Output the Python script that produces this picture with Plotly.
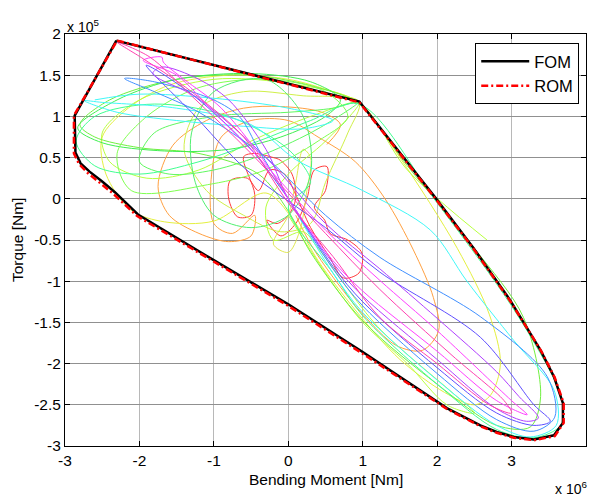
import plotly.graph_objects as go

# ---------------- data (x in 1e6 Nm, y in 1e5 Nm) ----------------
FOM_X = [-2.31, 0.955, 1.97, 2.49, 2.98, 3.39, 3.57, 3.69, 3.69, 3.57, 3.30, 3.03, 2.80, 2.58, 2.13, 1.0, 0.0, -1.03, -2.02, -2.33, -2.50, -2.67, -2.79, -2.86, -2.87, -2.31]
FOM_Y = [1.92, 1.18, 0.02, -0.60, -1.23, -1.84, -2.16, -2.48, -2.72, -2.87, -2.92, -2.89, -2.83, -2.75, -2.54, -1.86, -1.28, -0.73, -0.19, 0.08, 0.21, 0.33, 0.43, 0.56, 1.01, 1.92]
ROM_X = [-2.30, 0.955, 1.97, 2.49, 2.98, 3.40, 3.58, 3.70, 3.70, 3.58, 3.30, 3.03, 2.80, 2.58, 2.13, 1.0, 0.0, -1.03, -2.03, -2.35, -2.52, -2.69, -2.81, -2.88, -2.88, -2.30]
ROM_Y = [1.92, 1.17, 0.01, -0.61, -1.24, -1.85, -2.17, -2.48, -2.72, -2.88, -2.93, -2.90, -2.84, -2.76, -2.55, -1.88, -1.30, -0.75, -0.21, 0.06, 0.19, 0.31, 0.42, 0.55, 1.01, 1.92]

RED = [(-0.55,0.25),(-0.78,0.22),(-0.8,0.0),(-0.68,-0.22),(-0.5,-0.2),(-0.45,0.05),(-0.6,0.51),(-0.45,0.55),(-0.2,0.5),(-0.11,0.47),(0.05,0.3),(0.1,0.0),(0.0,-0.2),(-0.15,-0.3),(-0.29,-0.26),(-0.1,-0.45),(0.1,-0.3),(0.25,0.0),(0.35,0.35),(0.52,0.39),(0.5,0.1),(0.35,-0.1),(0.49,-0.26),(0.56,-0.42),(0.8,-0.5),(0.99,-0.66),(0.95,-0.9),(0.74,-0.96),(0.55,-0.7),(0.3,-0.35),(0.1,0.05),(-0.05,0.3),(-0.25,0.35),(-0.4,0.1),(-0.55,0.25)]
ORANGE = [(0.52,0.66),(0.7,0.9),(0.45,1.05),(-0.1,1.12),(-0.6,1.1),(-1.1,0.95),(-1.55,0.65),(-1.75,0.15),(-1.6,-0.2),(-1.2,-0.42),(-0.8,-0.52),(-0.5,-0.45),(-0.45,-0.2),(-0.75,-0.42),(-1.0,-0.3),(-1.03,0.3),(-0.9,0.75),(-0.5,0.95),(0.0,0.95),(0.4,0.75),(0.9,0.45),(1.3,0.0),(1.68,-0.62),(1.95,-1.2),(2.02,-1.6),(1.8,-1.84),(1.45,-1.78),(1.0,-1.4),(0.6,-0.95),(0.3,-0.55),(0.1,-0.2)]
YELLOW = [(-0.3,0.07),(-1.0,-0.27),(-1.66,-0.28),(-2.11,-0.14),(-2.45,0.3),(-2.5,0.75),(-2.15,1.1),(-1.6,1.38),(-0.8,1.5),(0.0,1.45),(0.6,1.3),(0.95,1.17),(1.5,0.5),(2.27,-0.6),(2.7,-1.4),(2.85,-2.0),(2.72,-2.38),(2.5,-2.5),(2.1,-2.35),(1.5,-1.95),(0.9,-1.35),(0.4,-0.75),(0.1,-0.3),(-0.3,0.07)]
YELLOW2 = [(0.0,-0.2),(-0.2,-0.55),(0.0,-0.65),(0.15,-0.4),(0.25,0.1),(0.3,0.5),(0.2,0.6),(0.1,0.2),(0.0,-0.2)]
YELLOW3 = [(0.95,1.18),(0.2,1.25),(-0.6,1.3),(-1.2,1.1),(-1.4,0.6),(-1.1,0.1),(-0.6,-0.2),(-0.1,-0.4),(0.3,-0.3),(0.5,0.2),(0.8,0.8),(0.95,1.18)]
LIME = [(0.0,-0.2),(0.5,-0.9),(1.0,-1.5),(1.6,-2.0),(2.13,-2.5),(2.5,-2.6),(2.2,-2.35),(1.2,-1.55),(0.4,-0.6),(0.2,-0.4),(-0.2,-0.5),(-0.3,-0.1),(0.0,0.3),(0.5,0.7),(0.95,1.17),(0.3,1.0),(-0.5,0.7),(-1.2,0.35),(-1.9,0.25),(-2.4,0.45),(-2.5,0.8),(-2.0,1.2),(-1.0,1.45),(0.0,1.4),(0.95,1.17),(1.6,0.35),(2.67,-0.5)]
GREEN = [(0.95,1.15),(1.6,0.4),(2.5,-0.6),(3.16,-1.44),(3.39,-2.4),(3.25,-2.77),(2.8,-2.75),(2.0,-2.25),(1.0,-1.48),(0.3,-0.65),(0.0,-0.15),(-0.4,0.3),(-1.2,0.55),(-2.0,0.62),(-2.6,0.75),(-2.8,0.9),(-2.4,1.2),(-1.5,1.45),(-0.5,1.5),(0.4,1.35),(0.95,1.15)]
GREEN_A = [(-2.83,0.86),(-2.5,0.68),(-1.66,0.58),(-0.8,0.6),(-0.1,0.75),(0.5,1.0),(0.7,1.2),(0.3,1.42),(-0.5,1.52),(-1.5,1.45),(-2.3,1.2),(-2.83,0.86)]
GREEN_B = [(-2.11,0.1),(-1.03,0.18),(-0.31,0.35),(0.4,0.7),(0.8,1.0),(0.5,1.3),(-0.3,1.45),(-1.2,1.35),(-1.9,1.0),(-2.3,0.55),(-2.11,0.1)]
GREEN_C = [(-0.3,1.45),(-1.0,1.3),(-1.3,0.8),(-1.25,0.2),(-1.0,-0.2),(-0.5,-0.35),(0.0,-0.2),(0.3,0.3),(0.2,1.0),(-0.3,1.45)]
GREEN_D = [(0.95,1.18),(0.4,0.85),(-0.3,0.55),(-1.0,0.35),(-1.6,0.3),(-2.0,0.45),(-1.8,0.8),(-1.0,1.0),(0.0,1.05),(0.6,1.1),(0.95,1.18)]
SPRING = [(0.0,-0.1),(0.6,-0.9),(1.0,-1.42),(2.0,-2.25),(2.8,-2.8),(3.3,-2.9),(3.66,-2.75),(3.68,-2.45),(3.55,-2.15),(3.0,-1.3),(2.0,-0.05),(0.95,1.15),(0.3,0.95),(-0.4,0.7),(-1.2,0.45),(-2.0,0.3),(-2.6,0.4),(-2.85,0.7),(-2.6,1.0),(-1.8,1.15),(-0.8,1.0),(0.0,0.6),(0.3,0.2),(0.0,-0.1)]
CYAN = [(0.0,0.0),(0.6,-0.9),(1.0,-1.38),(2.0,-2.2),(2.8,-2.75),(3.25,-2.89),(3.6,-2.75),(3.57,-2.32),(3.03,-1.72),(2.4,-1.0),(1.91,-0.38),(1.0,0.1),(0.11,0.47),(-0.5,0.9),(-1.5,1.1),(-2.5,1.17),(-2.74,1.19),(-2.3,1.05),(-1.5,0.95),(-0.6,0.88),(0.2,0.85),(0.6,0.95),(0.0,1.1),(-1.0,1.22),(-2.0,1.27),(-2.6,1.2)]
BLUE = [(0.0,0.0),(0.6,-0.85),(1.0,-1.3),(2.0,-2.12),(2.8,-2.68),(3.3,-2.82),(3.58,-2.65),(3.48,-2.16),(2.58,-1.43),(1.23,-0.71),(0.5,-0.2),(-0.3,0.5),(-1.2,1.05),(-1.8,1.3),(-2.2,1.46),(-1.8,1.42),(-1.0,1.2),(-0.65,0.99),(-0.4,0.6),(0.0,0.0)]
VIOLET = [(0.0,0.0),(0.6,-0.82),(1.0,-1.25),(2.0,-2.05),(2.8,-2.6),(3.3,-2.75),(3.52,-2.7),(3.3,-2.5),(2.58,-1.68),(1.23,-0.89),(0.5,-0.35),(-0.56,0.35),(-1.3,1.05),(-1.91,1.62),(-1.75,1.55),(-1.2,1.2),(-0.5,0.6),(0.0,0.0)]
PURPLE = [(0.0,0.0),(0.6,-0.78),(1.0,-1.18),(2.0,-1.95),(2.8,-2.55),(3.2,-2.7),(3.36,-2.66),(3.1,-2.4),(2.8,-2.1),(2.0,-1.45),(1.23,-0.85),(0.5,-0.3),(-0.3,0.5),(-1.23,1.23),(-1.82,1.52),(-1.7,1.6),(-1.2,1.45),(-0.8,1.2),(-0.3,0.6),(0.0,0.0)]
MAGENTA = [(0.0,0.0),(0.6,-0.75),(1.0,-1.12),(2.0,-1.85),(2.8,-2.45),(3.21,-2.62),(3.0,-2.45),(2.0,-1.6),(1.23,-0.99),(0.5,-0.38),(-0.4,0.5),(-1.0,1.05),(-1.5,1.5),(-1.95,1.68),(-1.7,1.72),(-1.68,1.66),(-1.4,1.45),(-0.9,1.1),(-0.2,0.3),(0.0,0.0)]
PINK = [(0.0,-0.05),(0.6,-0.7),(1.23,-1.44),(2.0,-2.0),(2.7,-2.5),(3.0,-2.6),(2.9,-2.45),(2.2,-1.9),(1.23,-1.1),(0.5,-0.42),(-0.5,0.55),(-1.3,1.25),(-1.86,1.72),(-2.3,1.9),(-1.95,1.7),(-1.3,1.3),(-0.6,0.75),(0.0,-0.05)]

TRAJ_NAMES = ["RED", "ORANGE", "YELLOW", "YELLOW2", "YELLOW3", "LIME", "GREEN", "GREEN_A", "GREEN_B", "GREEN_C", "GREEN_D", "SPRING", "CYAN", "BLUE", "VIOLET", "PURPLE", "MAGENTA", "PINK"]
TRAJ_DATA = [RED, ORANGE, YELLOW, YELLOW2, YELLOW3, LIME, GREEN, GREEN_A, GREEN_B, GREEN_C, GREEN_D, SPRING, CYAN, BLUE, VIOLET, PURPLE, MAGENTA, PINK]
TRAJ_COLORS = ["#ff3a3a", "#ffa040", "#e4f040", "#e0e850", "#d0f048", "#b8ff40", "#70f040", "#40f050", "#80ff50", "#50f070", "#60f860", "#40ff90", "#40f8f8", "#4090ff", "#6050ff", "#b040ff", "#ff40ff", "#ff40b0"]

X_TICKS = [-3, -2, -1, 0, 1, 2, 3, 4]
X_TICKTEXT = ["-3", "-2", "-1", "0", "1", "2", "3", "4"]
Y_TICKS = [-3, -2.5, -2, -1.5, -1, -0.5, 0, 0.5, 1, 1.5, 2]
Y_TICKTEXT = ["-3", "-2.5", "-2", "-1.5", "-1", "-0.5", "0", "0.5", "1", "1.5", "2"]

FONT = "Liberation Sans, Arial, sans-serif"

fig = go.Figure()
for name, pts, col in zip(TRAJ_NAMES, TRAJ_DATA, TRAJ_COLORS):
    xs = [p[0] for p in pts]
    ys = [p[1] for p in pts]
    fig.add_trace(go.Scatter(x=xs, y=ys, mode="lines", name=name, showlegend=False,
                             line=dict(color=col, width=1, shape="spline", smoothing=0.9),
                             hoverinfo="skip"))

fig.add_trace(go.Scatter(x=FOM_X, y=FOM_Y, mode="lines", name="FOM",
                         line=dict(color="black", width=2.5)))
fig.add_trace(go.Scatter(x=ROM_X, y=ROM_Y, mode="lines", name="ROM",
                         line=dict(color="#ff0000", width=2.5, dash="7px,3px,2px,3px")))

axis_common = dict(showline=True, linecolor="black", linewidth=1, mirror="ticks",
                   ticks="inside", ticklen=5, tickcolor="black", zeroline=False,
                   showgrid=True, tickfont=dict(family=FONT, size=15.5, color="black"))

fig.update_layout(
    width=590, height=500,
    margin=dict(l=65, r=4, t=34, b=54),
    paper_bgcolor="white", plot_bgcolor="white",
    font=dict(family=FONT, size=15.5, color="black"),
    xaxis=dict(range=[-3, 4], tickvals=X_TICKS, ticktext=X_TICKTEXT,
               gridcolor="#b8b8b8", gridwidth=1, **axis_common),
    yaxis=dict(range=[-3, 2], tickvals=Y_TICKS, ticktext=Y_TICKTEXT,
               gridcolor="#909090", gridwidth=1, **axis_common),
    legend=dict(x=0.987, y=0.978, xanchor="right", yanchor="top",
                bordercolor="black", borderwidth=1, bgcolor="white",
                font=dict(family=FONT, size=16.5, color="black"),
                itemwidth=48, tracegroupgap=0),
    showlegend=True,
)

fig.add_annotation(text="x 10<sup>5</sup>", xref="paper", yref="paper",
                   x=0.0, y=1.0, xanchor="left", yanchor="bottom", yshift=-3,
                   showarrow=False, font=dict(family=FONT, size=14))
fig.add_annotation(text="x 10<sup>6</sup>", xref="paper", yref="paper",
                   x=1.0, y=0.0, xanchor="right", yanchor="top", yshift=-31, xshift=3,
                   showarrow=False, font=dict(family=FONT, size=14))
fig.add_annotation(text="Bending Moment [Nm]", xref="paper", yref="paper",
                   x=0.5, y=0.0, xanchor="center", yanchor="top", yshift=-23,
                   showarrow=False, font=dict(family=FONT, size=15.5))
fig.add_annotation(text="Torque [Nm]", xref="paper", yref="paper",
                   x=0.0, y=0.5, xanchor="center", yanchor="middle", xshift=-48,
                   textangle=-90, showarrow=False, font=dict(family=FONT, size=15.5))

fig.write_html("out.html")
